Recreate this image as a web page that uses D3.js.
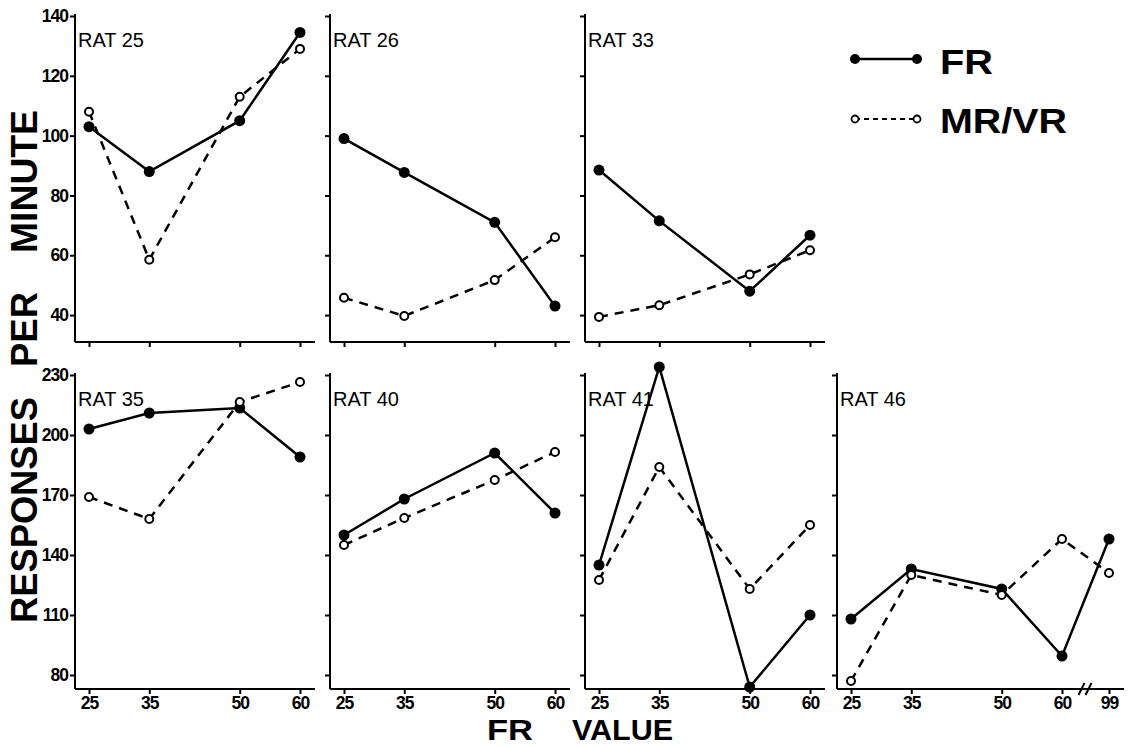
<!DOCTYPE html>
<html>
<head>
<meta charset="utf-8">
<script src="https://cdn.jsdelivr.net/npm/d3@7"></script>
<style>
body { margin: 0; background: #fff; }
svg { display: block; font-family: "Liberation Sans", Arial, sans-serif; }
.axis path, .axis line { stroke: #000; stroke-width: 2; }
.axis text { font-size: 17.5px; font-weight: bold; fill: #000; letter-spacing: -1px; font-family: "Liberation Sans", Arial, sans-serif; }
</style>
</head>
<body>
<svg width="1133" height="747"></svg>
<script>
// FR values on the x axis
var frValues = [25, 35, 50, 60];
var frValues46 = [25, 35, 50, 60, 99];
var topTicks = [40, 60, 80, 100, 120, 140];
var bottomTicks = [80, 110, 140, 170, 200, 230];

// responses per minute
var rat25FR = [103, 88, 105, 134.5], rat25MR = [108, 58.5, 113, 129];
var rat26FR = [99, 87.7, 71, 43], rat26MR = [45.8, 39.7, 51.7, 66];
var rat33FR = [88.5, 71.5, 48, 66.7], rat33MR = [39.4, 43.3, 53.6, 61.7];
var rat35FR = [203, 211, 213.5, 189], rat35MR = [169, 158, 216.5, 226.5];
var rat40FR = [150, 168, 191, 161], rat40MR = [145, 158.5, 177.5, 191.5];
var rat41FR = [135, 234, 74, 110], rat41MR = [127.5, 184, 123, 155];
var rat46FR = [108, 133, 123, 89.5, 148], rat46MR = [77, 130, 120, 148, 131];

var panels = [
  {name: "RAT 25", row: 0, col: 0, xs: frValues, fr: rat25FR, mr: rat25MR},
  {name: "RAT 26", row: 0, col: 1, xs: frValues, fr: rat26FR, mr: rat26MR},
  {name: "RAT 33", row: 0, col: 2, xs: frValues, fr: rat33FR, mr: rat33MR},
  {name: "RAT 35", row: 1, col: 0, xs: frValues, fr: rat35FR, mr: rat35MR},
  {name: "RAT 40", row: 1, col: 1, xs: frValues, fr: rat40FR, mr: rat40MR},
  {name: "RAT 41", row: 1, col: 2, xs: frValues, fr: rat41FR, mr: rat41MR},
  {name: "RAT 46", row: 1, col: 3, xs: frValues46, fr: rat46FR, mr: rat46MR}
];

var svg = d3.select("svg");

var colLeft = [75, 330, 585, 837];
var rows = [
  {y: d3.scaleLinear().domain([31, 140]).range([342, 16]), ticks: topTicks},
  {y: d3.scaleLinear().domain([73, 230]).range([689, 375]), ticks: bottomTicks}
];

var x = d3.scaleLinear().domain([25, 60, 99]).range([14, 225, 272]);

panels.forEach(function(p) {
  var y = rows[p.row].y,
      width = p.col === 3 ? 287 : 240,
      g = svg.append("g").attr("transform", "translate(" + colLeft[p.col] + ",0)");

  g.append("g")
      .attr("class", "axis")
      .call(d3.axisLeft(y)
        .tickValues(rows[p.row].ticks)
        .tickSize(5).tickSizeOuter(0).tickPadding(2)
        .tickFormat(p.col === 0 ? d3.format("d") : ""))
    .select(".domain")
      .attr("d", "M0," + y.range()[0] + "V" + (y.range()[1] - 2));

  var xa = g.append("g")
      .attr("class", "axis")
      .attr("transform", "translate(0," + y.range()[0] + ")")
      .call(d3.axisBottom(x)
        .tickValues(p.xs)
        .tickSize(5).tickSizeOuter(0).tickPadding(3)
        .tickFormat(p.row === 1 ? d3.format("d") : ""));
  xa.select(".domain").remove();
  xa.append("line")
      .attr("x1", 0).attr("x2", width)
      .attr("stroke", "#000").attr("stroke-width", 2);

  if (p.col === 3) {
    // axis break between 60 and 99
    var bx = (x(60) + x(99)) / 2;
    [-4, 3].forEach(function(o) {
      xa.append("line")
          .attr("x1", bx + o - 3).attr("y1", 6)
          .attr("x2", bx + o + 3).attr("y2", -6)
          .attr("stroke", "#000").attr("stroke-width", 2);
    });
  }

  g.append("text")
      .attr("x", 3)
      .attr("y", y.range()[1] + 31)
      .attr("font-size", 20)
      .attr("fill", "#000")
      .text(p.name);

  var line = d3.line()
      .x(function(d) { return x(d[0]); })
      .y(function(d) { return y(d[1]); });

  var mr = d3.zip(p.xs, p.mr),
      fr = d3.zip(p.xs, p.fr);

  g.append("path")
      .attr("d", line(mr))
      .attr("fill", "none")
      .attr("stroke", "#000")
      .attr("stroke-width", 2.5)
      .attr("stroke-dasharray", "9,7");

  g.append("path")
      .attr("d", line(fr))
      .attr("fill", "none")
      .attr("stroke", "#000")
      .attr("stroke-width", 2.5);

  g.selectAll(".fr-dot")
    .data(fr)
    .enter().append("circle")
      .attr("cx", function(d) { return x(d[0]); })
      .attr("cy", function(d) { return y(d[1]); })
      .attr("r", 5.5)
      .attr("fill", "#000");

  g.selectAll(".mr-dot")
    .data(mr)
    .enter().append("circle")
      .attr("cx", function(d) { return x(d[0]); })
      .attr("cy", function(d) { return y(d[1]); })
      .attr("r", 4)
      .attr("fill", "#fff")
      .attr("stroke", "#000")
      .attr("stroke-width", 2);
});

// legend
var legend = svg.append("g");
legend.append("line")
    .attr("x1", 855).attr("x2", 917).attr("y1", 59).attr("y2", 59)
    .attr("stroke", "#000").attr("stroke-width", 2.5);
[855, 917].forEach(function(cx) {
  legend.append("circle").attr("cx", cx).attr("cy", 59).attr("r", 5).attr("fill", "#000");
});
legend.append("line")
    .attr("x1", 855).attr("x2", 917).attr("y1", 119).attr("y2", 119)
    .attr("stroke", "#000").attr("stroke-width", 1.8).attr("stroke-dasharray", "5,4");
[855, 917].forEach(function(cx) {
  legend.append("circle").attr("cx", cx).attr("cy", 119).attr("r", 3.5)
      .attr("fill", "#fff").attr("stroke", "#000").attr("stroke-width", 1.8);
});
legend.append("text")
    .attr("x", 940).attr("y", 74)
    .attr("font-size", 35).attr("font-weight", "bold")
    .attr("textLength", 53).attr("lengthAdjust", "spacingAndGlyphs")
    .text("FR");
legend.append("text")
    .attr("x", 940).attr("y", 133)
    .attr("font-size", 35).attr("font-weight", "bold")
    .attr("textLength", 127).attr("lengthAdjust", "spacingAndGlyphs")
    .text("MR/VR");

// axis titles
[["RESPONSES", 510, 226], ["PER", 329.5, 75], ["MINUTE", 181.5, 143]].forEach(function(w) {
  svg.append("text")
      .attr("transform", "translate(37," + w[1] + ") rotate(-90)")
      .attr("text-anchor", "middle")
      .attr("font-size", 37).attr("font-weight", "bold")
      .attr("textLength", w[2]).attr("lengthAdjust", "spacingAndGlyphs")
      .text(w[0]);
});
[["FR", 510, 46], ["VALUE", 622.5, 101]].forEach(function(w) {
  svg.append("text")
      .attr("x", w[1]).attr("y", 740)
      .attr("text-anchor", "middle")
      .attr("font-size", 30).attr("font-weight", "bold")
      .attr("textLength", w[2]).attr("lengthAdjust", "spacingAndGlyphs")
      .text(w[0]);
});
</script>
</body>
</html>
